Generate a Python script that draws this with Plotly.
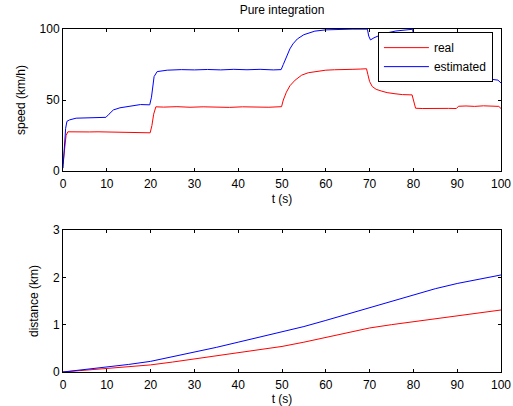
import plotly.graph_objects as go

# ---- data ----
t_real = [0, 0.3, 0.7, 1.1, 2, 4, 6, 8, 9.9, 10.2, 12, 14, 16, 18, 19.9, 20.3, 20.7, 21.2, 23, 26, 29, 32, 35, 38, 41, 44, 47, 49.9,
          50.3, 51, 51.8, 53, 54.5, 56, 58, 60, 62, 64, 66, 68, 69.3, 69.6, 70, 70.6, 71.5, 72.8, 74, 75.8, 77.5, 79.7,
          80.1, 80.5, 82, 84, 86, 88, 89.8, 90.3, 92, 94, 96, 98, 99.5, 100]
v_real = [5, 15, 25, 27.6, 27.5, 27.7, 27.5, 27.6, 27.5, 27, 26.9, 27, 26.8, 26.9, 26.9, 32, 40, 45.2, 45, 45.3, 44.9, 45.2, 45, 44.8, 45.2, 45, 44.9, 45.3,
          50, 55.5, 60, 64, 67.5, 69.2, 70.3, 71, 71.3, 71.2, 71.6, 71.8, 72, 68, 63, 59.5, 57.5, 56.2, 55.2, 54.4, 53.8, 53.6,
          49, 44.2, 44, 44.2, 44, 44.1, 44, 45.6, 45.8, 45.5, 45.9, 45.6, 45.5, 44]

t_est = [0, 0.3, 0.6, 0.9, 1.5, 3, 5, 7, 9.8, 10.5, 11.5, 13, 14.6, 16, 17.7, 19.8, 20.2, 20.8, 21.5, 23.8, 27, 30, 33, 36, 39, 42, 45, 48, 49.8,
         50.3, 51, 51.8, 52.5, 53.5, 55, 57.5, 60, 63, 66, 69.5, 69.8, 70.2, 71, 72.5, 74, 76, 78, 79.8,
         80.3, 81, 83, 86, 89, 91, 93, 95, 96.7, 98, 99.3, 100]
v_est = [2, 15, 30, 35, 36, 37.2, 37.5, 37.8, 37.8, 40, 43, 44.5, 45.4, 46, 46.8, 46.6, 52, 66.5, 70, 71, 71.4, 71.2, 71.5, 71.2, 71.6, 71.3, 71.6, 71.2, 71.4,
         75, 80.5, 86, 89.5, 93, 96, 98.5, 99.4, 99.8, 99.9, 99.9, 95, 92.3, 93.8, 95.8, 97.3, 98.6, 99.5, 99.8,
         92, 88, 83, 76, 71, 69, 67.5, 66.5, 64.8, 64.5, 64, 62]

t_dist = [0, 5, 10, 15, 20, 25, 30, 35, 40, 45, 50, 55, 60, 65, 70, 75, 80, 85, 90, 95, 100]
d_real = [0, 0.035, 0.075, 0.112, 0.15, 0.21, 0.275, 0.337, 0.4, 0.47, 0.54, 0.63, 0.73, 0.83, 0.93, 1.0, 1.065, 1.125, 1.185, 1.245, 1.31]
d_est = [0, 0.05, 0.1, 0.16, 0.225, 0.32, 0.42, 0.52, 0.63, 0.74, 0.84, 0.96, 1.09, 1.225, 1.36, 1.5, 1.635, 1.76, 1.87, 1.965, 2.05]

x_ticks = [0, 10, 20, 30, 40, 50, 60, 70, 80, 90, 100]
speed_ticks = [0, 50, 100]
dist_ticks = [0, 1, 2, 3]

RED = "#ff0000"
BLUE = "#0000ff"
FONT = "Liberation Sans, Arial, sans-serif"

fig = go.Figure()
fig.add_trace(go.Scatter(x=t_real, y=v_real, mode="lines", name="real",
                         line=dict(color=RED, width=1), xaxis="x", yaxis="y"))
fig.add_trace(go.Scatter(x=t_est, y=v_est, mode="lines", name="estimated",
                         line=dict(color=BLUE, width=1), xaxis="x", yaxis="y"))
fig.add_trace(go.Scatter(x=t_dist, y=d_real, mode="lines", name="real", showlegend=False,
                         line=dict(color=RED, width=1), xaxis="x2", yaxis="y2"))
fig.add_trace(go.Scatter(x=t_dist, y=d_est, mode="lines", name="estimated", showlegend=False,
                         line=dict(color=BLUE, width=1), xaxis="x2", yaxis="y2"))

axis_common = dict(showline=True, linecolor="black", linewidth=1, mirror="ticks",
                   ticks="inside", ticklen=3, tickcolor="black", showgrid=False,
                   zeroline=False, automargin=False,
                   tickfont=dict(size=12, color="black", family=FONT))

fig.update_layout(
    width=513, height=406,
    margin=dict(l=63, r=12, t=29, b=34),
    paper_bgcolor="white", plot_bgcolor="white",
    font=dict(family=FONT, size=12, color="black"),
    title=dict(text="Pure integration", x=0.5, xref="paper", y=1 - 10 / 406, yanchor="middle",
               font=dict(size=12, color="black", family=FONT)),
    xaxis=dict(domain=[0, 1], anchor="y", range=[0, 100], tickvals=x_ticks, ticklabelstandoff=2,
               title=dict(text="t (s)", standoff=4, font=dict(size=12)), **axis_common),
    yaxis=dict(domain=[0.586, 1], anchor="x", range=[0, 100], tickvals=speed_ticks,
               title=dict(text="speed (km/h)", standoff=11, font=dict(size=12)), **axis_common),
    xaxis2=dict(domain=[0, 1], anchor="y2", range=[0, 100], tickvals=x_ticks, ticklabelstandoff=2,
                title=dict(text="t (s)", standoff=4, font=dict(size=12)), **axis_common),
    yaxis2=dict(domain=[0, 0.414], anchor="x2", range=[0, 3], tickvals=dist_ticks,
                title=dict(text="distance (km)", standoff=11, font=dict(size=12)), **axis_common),
    legend=dict(x=0.719, y=0.918, xanchor="left", yanchor="middle", bgcolor="white",
                bordercolor="black", borderwidth=1, font=dict(size=12, color="black", family=FONT),
                tracegroupgap=0, itemwidth=45),
    showlegend=True,
)

fig.write_html("out.html")
